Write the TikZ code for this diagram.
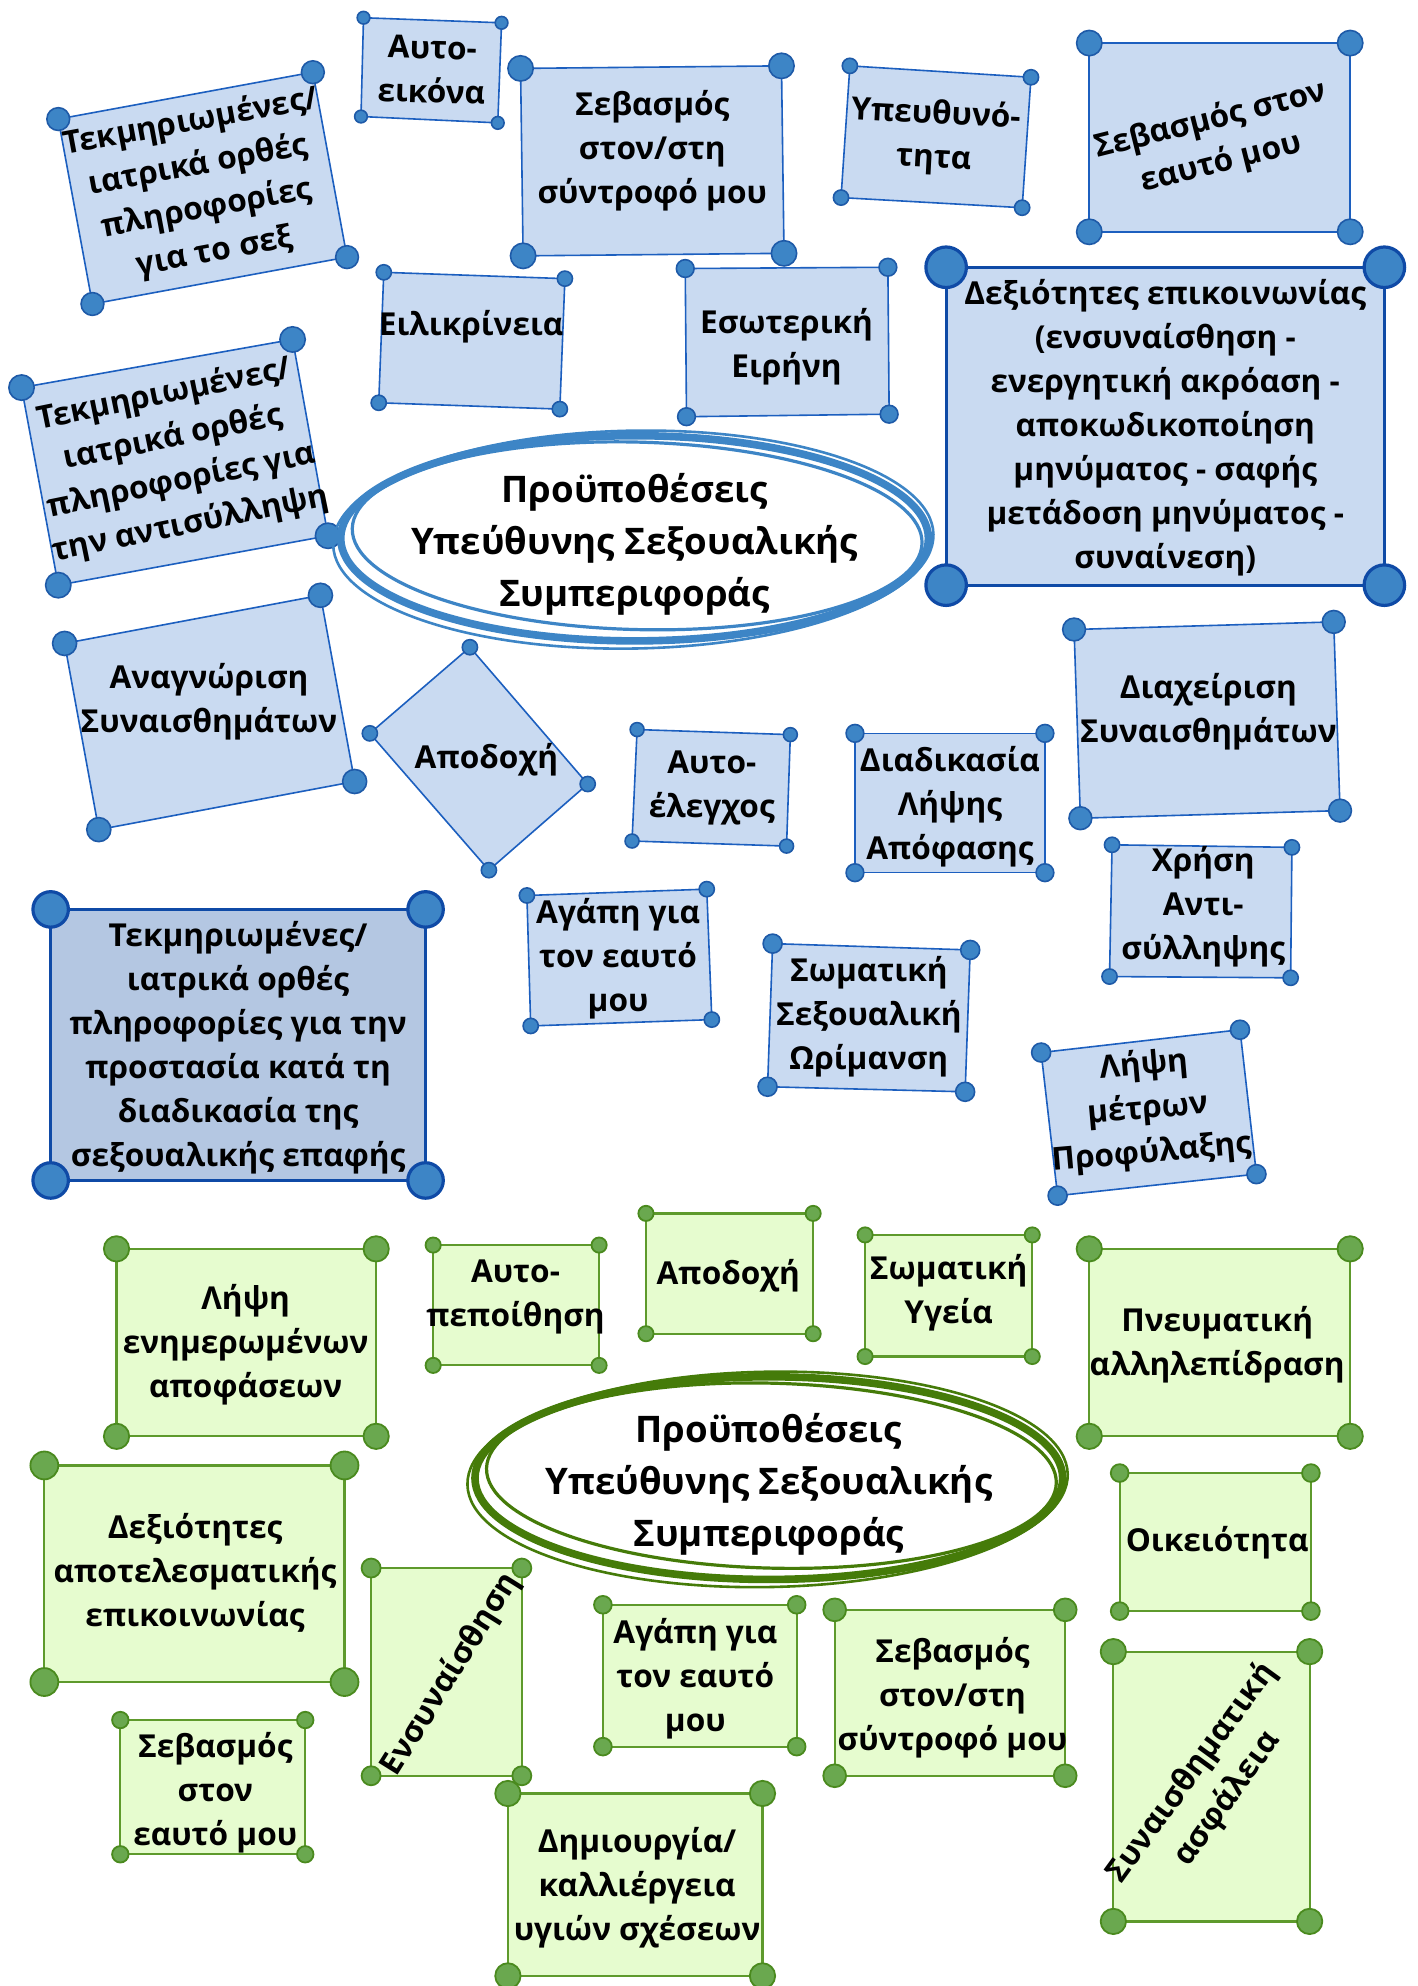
\documentclass[tikz,border=0pt]{standalone}
\usepackage{fontspec}
\setmainfont{Open Sans}
\definecolor{bfill}{HTML}{C9DAF1}
\definecolor{bfilldark}{HTML}{B4C7E2}
\definecolor{bline}{HTML}{1C5FBF}
\definecolor{bdark}{HTML}{0F4AA6}
\definecolor{bdotc}{HTML}{3D85C6}
\definecolor{bdotl}{HTML}{1E5AA8}
\definecolor{gfill}{HTML}{E6FCCF}
\definecolor{gline}{HTML}{5E9A2C}
\definecolor{gdotc}{HTML}{6AA84F}
\definecolor{gdotl}{HTML}{4A8A1E}
\definecolor{eblue}{HTML}{3D85C6}
\definecolor{egreen}{HTML}{457B09}
\tikzset{
  bbox/.style={fill=bfill, draw=bline, line width=0.8pt, line join=round},
  bboxthick/.style={fill=bfill, draw=bdark, line width=1.6pt, line join=round},
  bboxdark/.style={fill=bfilldark, draw=bdark, line width=1.6pt, line join=round},
  bdot/.style={fill=bdotc, draw=bdotl, line width=0.8pt},
  bdotthick/.style={fill=bdotc, draw=bdark, line width=1.6pt},
  gbox/.style={fill=gfill, draw=gline, line width=1.1pt, line join=round},
  gdot/.style={fill=gdotc, draw=gdotl, line width=0.9pt},
  txt/.style={font=\fontsize{15.8}{22}\selectfont\bfseries, align=center, inner sep=0pt, text=black},
  etxt/.style={font=\fontsize{18.3}{26}\selectfont\bfseries, align=center, inner sep=0pt, text=black},
}
\newcommand{\quadbox}[7]{%
  \path[#1] #4 -- #5 -- #6 -- #7 -- cycle;
  \path[#2] #4 circle[radius=#3] #5 circle[radius=#3] #6 circle[radius=#3] #7 circle[radius=#3];
}
\begin{document}
\begin{tikzpicture}[x=0.6332pt, y=-0.6332pt]
\path[use as bounding box, fill=white] (0,0) rectangle (1119,1568);

% ---------------- blue part ----------------
\quadbox{bbox}{bdot}{9}{(46,94)}{(247,57)}{(274,203)}{(73,240)}
\node[txt, rotate=10.5] (b1) at (160,148) {Τεκμηριωμένες/\\ιατρικά ορθές\\πληροφορίες\\για το σεξ};

\quadbox{bbox}{bdot}{5}{(287,14)}{(396,18)}{(393,97)}{(285,92)}
\node[txt, rotate=-1.5] (b2) at (341,55) {Αυτο-\\εικόνα};

\quadbox{bbox}{bdot}{10}{(411,54)}{(617,52)}{(619,200)}{(413,202)}
\node[txt] (b3) at (515,119) {Σεβασμός\\στον/στη\\σύντροφό μου};

\quadbox{bbox}{bdot}{6}{(671,52)}{(814,61)}{(807,164)}{(664,156)}
\node[txt, rotate=-3] (b4) at (738,108) {Υπευθυνό-\\τητα};

\quadbox{bbox}{bdot}{10}{(860,34)}{(1066,34)}{(1066,183)}{(860,183)}
\node[txt, rotate=14] (b5) at (960,112) {Σεβασμός στον\\εαυτό μου};

\quadbox{bbox}{bdot}{6}{(303,215)}{(446,220)}{(442,323)}{(299,318)}
\node[txt] (b6) at (372,258) {Ειλικρίνεια};

\quadbox{bbox}{bdot}{7}{(541,212)}{(701,211)}{(702,327)}{(542,329)}
\node[txt] (b7) at (621,274) {Εσωτερική\\Ειρήνη};

\quadbox{bboxthick}{bdotthick}{16}{(747,211)}{(1093,211)}{(1093,462)}{(747,462)}
\node[txt] (b8) at (920,338) {Δεξιότητες επικοινωνίας\\(ενσυναίσθηση -\\ενεργητική ακρόαση -\\αποκωδικοποίηση\\μηνύματος - σαφής\\μετάδοση μηνύματος -\\συναίνεση)};

\quadbox{bbox}{bdot}{10}{(17,306)}{(231,268)}{(259,423)}{(46,462)}
\node[txt, rotate=11.5] (b9) at (140,363) {Τεκμηριωμένες/\\ιατρικά ορθές\\πληροφορίες για\\την αντισύλληψη};

% blue ellipse
\draw[eblue, line width=3.8pt] (501,425) ellipse [x radius=232, y radius=81];
\draw[eblue, line width=1.6pt, rotate around={-1.5:(501,425)}] (503,423) ellipse [x radius=225, y radius=74];
\draw[eblue, line width=1.3pt, rotate around={1:(501,425)}] (500,426) ellipse [x radius=237, y radius=86];
\node[etxt] (be) at (501,430) {Προϋποθέσεις\\Υπεύθυνης Σεξουαλικής\\Συμπεριφοράς};

\quadbox{bbox}{bdot}{9.5}{(51,508)}{(253,470)}{(280,617)}{(78,655)}
\node[txt] (b11) at (165,554) {Αναγνώριση\\Συναισθημάτων};

\quadbox{bbox}{bdot}{6}{(371,511)}{(464,619)}{(386,687)}{(292,579)}
\node[txt] (b12) at (384,600) {Αποδοχή};

\quadbox{bbox}{bdot}{5.5}{(503,576)}{(624,580)}{(621,668)}{(499,664)}
\node[txt] (b13) at (562,622) {Αυτο-\\έλεγχος};

\quadbox{bbox}{bdot}{7}{(675,579)}{(825,579)}{(825,689)}{(675,689)}
\node[txt] (b14) at (750,637) {Διαδικασία\\Λήψης\\Απόφασης};

\quadbox{bbox}{bdot}{9}{(848,497)}{(1053,491)}{(1058,640)}{(853,646)}
\node[txt] (b15) at (954,562) {Διαχείριση\\Συναισθημάτων};

\quadbox{bbox}{bdot}{6}{(878,667)}{(1020,669)}{(1019,772)}{(876,771)}
\node[txt] (b16) at (950,716) {Χρήση\\Αντι-\\σύλληψης};

\quadbox{bboxdark}{bdotthick}{14}{(40,718)}{(336,718)}{(336,932)}{(40,932)}
\node[txt] (b17) at (188,827) {Τεκμηριωμένες/\\ιατρικά ορθές\\πληροφορίες για την\\προστασία κατά τη\\διαδικασία της\\σεξουαλικής επαφής};

\quadbox{bbox}{bdot}{6}{(416,707)}{(558,702)}{(562,805)}{(419,810)}
\node[txt] (b18) at (488,757) {Αγάπη για\\τον εαυτό\\μου};

\quadbox{bbox}{bdot}{7.5}{(610,745)}{(766,750)}{(762,862)}{(606,858)}
\node[txt] (b19) at (686,803) {Σωματική\\Σεξουαλική\\Ωρίμανση};

\quadbox{bbox}{bdot}{7.5}{(822,831)}{(979,813)}{(992,927)}{(835,944)}
\node[txt, rotate=5] (b20) at (906,876) {Λήψη\\μέτρων\\Προφύλαξης};

% ---------------- green part ----------------
\quadbox{gbox}{gdot}{10}{(92,986)}{(297,986)}{(297,1134)}{(92,1134)}
\node[txt] (g1) at (194,1062) {Λήψη\\ενημερωμένων\\αποφάσεων};

\quadbox{gbox}{gdot}{6}{(342,983)}{(473,983)}{(473,1078)}{(342,1078)}
\node[txt] (g2) at (407,1024) {Αυτο-\\πεποίθηση};

\quadbox{gbox}{gdot}{6}{(510,958)}{(642,958)}{(642,1053)}{(510,1053)}
\node[txt] (g3) at (575,1007) {Αποδοχή};

\quadbox{gbox}{gdot}{6}{(683,975)}{(815,975)}{(815,1071)}{(683,1071)}
\node[txt] (g4) at (749,1021) {Σωματική\\Υγεία};

\quadbox{gbox}{gdot}{10}{(860,986)}{(1066,986)}{(1066,1134)}{(860,1134)}
\node[txt] (g5) at (961,1062) {Πνευματική\\αλληλεπίδραση};

% green ellipse
\draw[egreen, line width=3.8pt] (607,1167) ellipse [x radius=232, y radius=80];
\draw[egreen, line width=1.6pt, rotate around={-1.5:(607,1167)}] (609,1165) ellipse [x radius=225, y radius=73];
\draw[egreen, line width=1.3pt, rotate around={1:(607,1167)}] (606,1168) ellipse [x radius=237, y radius=85];
\node[etxt] (ge) at (607,1172) {Προϋποθέσεις\\Υπεύθυνης Σεξουαλικής\\Συμπεριφοράς};

\quadbox{gbox}{gdot}{11}{(35,1157)}{(272,1157)}{(272,1328)}{(35,1328)}
\node[txt] (g7) at (154,1242) {Δεξιότητες\\αποτελεσματικής\\επικοινωνίας};

\quadbox{gbox}{gdot}{7}{(884,1163)}{(1035,1163)}{(1035,1272)}{(884,1272)}
\node[txt] (g8) at (961,1218) {Οικειότητα};

\quadbox{gbox}{gdot}{7.5}{(293,1238)}{(412,1238)}{(412,1402)}{(293,1402)}
\node[txt, rotate=58] (g9) at (356,1322) {Ενσυναίσθηση};

\quadbox{gbox}{gdot}{7}{(476,1267)}{(629,1267)}{(629,1379)}{(476,1379)}
\node[txt] (g10) at (549,1325) {Αγάπη για\\τον εαυτό\\μου};

\quadbox{gbox}{gdot}{9}{(659,1271)}{(841,1271)}{(841,1402)}{(659,1402)}
\node[txt] (g11) at (752,1340) {Σεβασμός\\στον/στη\\σύντροφό μου};

\quadbox{gbox}{gdot}{10}{(879,1304)}{(1034,1304)}{(1034,1517)}{(879,1517)}
\node[txt, rotate=54] (g12) at (955,1410) {Συναισθηματική\\ασφάλεια};

\quadbox{gbox}{gdot}{6.5}{(95,1358)}{(241,1358)}{(241,1464)}{(95,1464)}
\node[txt] (g13) at (170,1415) {Σεβασμός\\στον\\εαυτό μου};

\quadbox{gbox}{gdot}{10}{(401,1416)}{(602,1416)}{(602,1560)}{(401,1560)}
\node[txt] (g14) at (503,1490) {Δημιουργία/\\καλλιέργεια\\υγιών σχέσεων};
\end{tikzpicture}
\end{document}
